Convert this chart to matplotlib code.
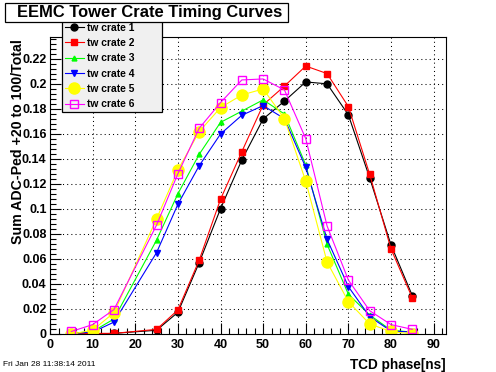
import matplotlib
matplotlib.use('Agg')
import matplotlib.pyplot as plt
from matplotlib.patches import Rectangle
from matplotlib.ticker import MultipleLocator

plt.rcParams['font.family'] = ['Liberation Sans', 'DejaVu Sans']

# TCD phase points (no scan point at 20 ns)
phase = [5, 10, 15, 25, 30, 35, 40, 45, 50, 55, 60, 65, 70, 75, 80, 85]

crate1 = [0.0, 0.0, 0.0005, 0.003, 0.0173, 0.057, 0.100, 0.139, 0.1717, 0.186,
          0.2013, 0.1998, 0.175, 0.1246, 0.0711, 0.0306]
crate2 = [0.0, 0.0005, 0.0005, 0.0037, 0.0192, 0.059, 0.1076, 0.1456, 0.183, 0.198,
          0.214, 0.208, 0.1816, 0.1275, 0.0679, 0.0288]
crate3 = [0.0005, 0.002, 0.012, 0.075, 0.112, 0.1435, 0.169, 0.178, 0.187, 0.1757,
          0.135, 0.0716, 0.0317, 0.0152, 0.003, 0.0015]
crate4 = [0.0005, 0.0015, 0.0095, 0.065, 0.1036, 0.1344, 0.1597, 0.1747, 0.1824, 0.172,
          0.133, 0.0756, 0.0378, 0.0138, 0.0024, 0.0016]
crate5 = [0.0, 0.003, 0.017, 0.092, 0.131, 0.1616, 0.1808, 0.1909, 0.1957, 0.172,
          0.122, 0.0575, 0.0258, 0.008, 0.002, 0.0]
crate6 = [0.002, 0.0075, 0.0195, 0.087, 0.128, 0.1643, 0.1848, 0.2029, 0.2037, 0.1949,
          0.156, 0.0863, 0.0431, 0.0186, 0.0075, 0.0037]

labels = ['tw crate 1', 'tw crate 2', 'tw crate 3', 'tw crate 4', 'tw crate 5', 'tw crate 6']
series = [crate1, crate2, crate3, crate4, crate5, crate6]

styles = [
    dict(color='black', marker='o', ms=5),
    dict(color='red', marker='s', ms=4.5),
    dict(color='#00ff00', marker='^', ms=3.5),
    dict(color='blue', marker='v', ms=5),
    dict(color='#ffff00', marker='o', ms=8),
    dict(color='#ff00ff', marker='s', ms=6, mfc='none', mew=1),
]

W, H = 496, 372
fig = plt.figure(figsize=(W / 100, H / 100), dpi=100)
ax = fig.add_axes([50 / W, 1 - 334 / H, 396 / W, 297 / H])

for y, lab, st in zip(series, labels, styles):
    ax.plot(phase, y, lw=0.8, label=lab, **st)

ax.set_xlim(0, 92.9)
ax.set_ylim(0, 0.2372)
ax.xaxis.set_major_locator(MultipleLocator(10))
ax.xaxis.set_minor_locator(MultipleLocator(2))
ax.yaxis.set_major_locator(MultipleLocator(0.02))
ax.yaxis.set_minor_locator(MultipleLocator(0.004))
ax.yaxis.set_major_formatter(matplotlib.ticker.FuncFormatter(lambda v, p: ('%g' % round(v, 3))))
ax.tick_params(which='both', direction='in', top=False, right=False, width=0.8)
ax.tick_params(which='major', length=8)
ax.tick_params(which='minor', length=4)
ax.tick_params(axis='x', pad=3.5)
ax.tick_params(axis='y', pad=2.5)
for t in ax.get_xticklabels() + ax.get_yticklabels():
    t.set_fontsize(9)
    t.set_fontweight('bold')
ax.grid(True, which='major', color='black', linestyle=(0, (1, 3)), lw=0.75)
for s in ax.spines.values():
    s.set_linewidth(0.8)

# legend box (grey panel) + legend entries
ax.add_patch(Rectangle((62 / W, 1 - 112 / H), 100 / W, 94 / H, transform=fig.transFigure,
                       facecolor='#f0f0f0', edgecolor='black', lw=0.9, zorder=4.9, clip_on=False))
leg = ax.legend(loc='upper left', bbox_to_anchor=(62 / W, 1 - 19.5 / H),
                bbox_transform=fig.transFigure, prop=dict(size=7.4, weight='bold'),
                frameon=False, borderaxespad=0, borderpad=0.3, labelspacing=0.52,
                handlelength=1.8, handletextpad=0.3, numpoints=1)
leg.set_zorder(5)

# title box
fig.patches.append(Rectangle((5 / W, 1 - 22 / H), 283 / W, 19 / H, transform=fig.transFigure,
                             facecolor='white', edgecolor='black', lw=0.9, zorder=5))
fig.text(150 / W, 1 - 12.5 / H, 'EEMC Tower Crate Timing Curves', ha='center', va='center',
         fontsize=11.9, fontweight='bold', zorder=6)

fig.text(18 / W, 1 - 39 / H, 'Sum ADC-Ped +20 to 100/Total', rotation=90, ha='center', va='top',
         fontsize=10.2, fontweight='bold')
fig.text(446 / W, 1 - 365 / H, 'TCD phase[ns]', ha='right', va='center',
         fontsize=9.8, fontweight='bold')
fig.text(3 / W, 1 - 364 / H, 'Fri Jan 28 11:38:14 2011', ha='left', va='center', fontsize=6)

fig.savefig('out.png', dpi=100)
